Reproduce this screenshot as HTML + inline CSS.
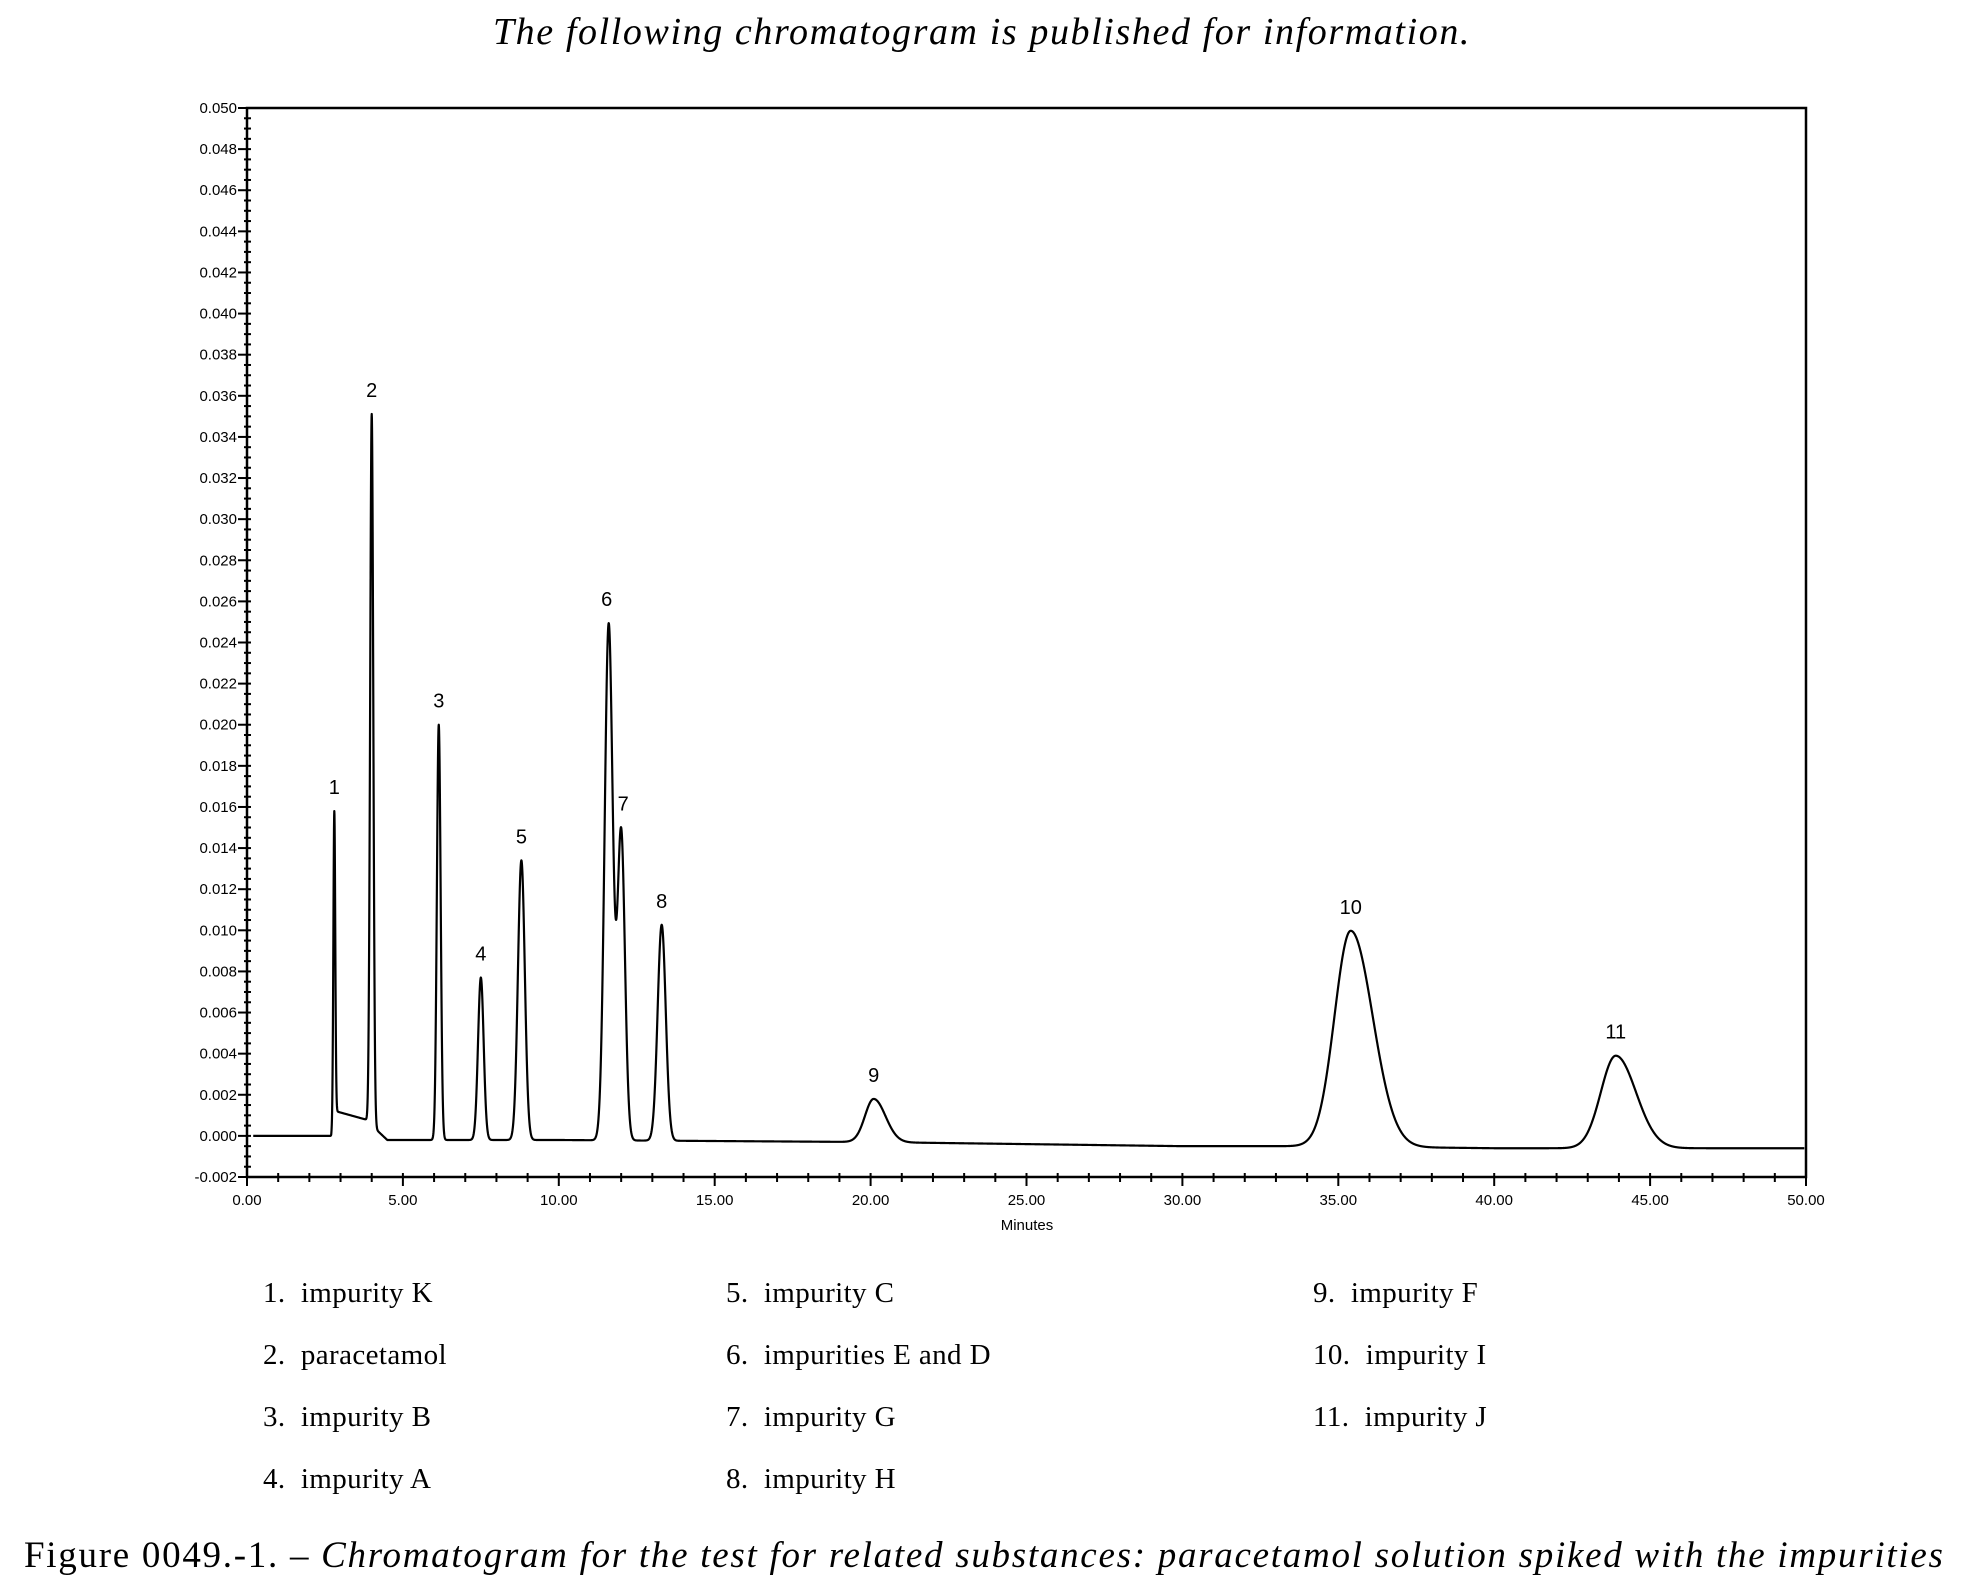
<!DOCTYPE html>
<html><head><meta charset="utf-8">
<style>
body{margin:0;background:#fff;width:1964px;height:1592px;overflow:hidden;position:relative;font-family:"Liberation Serif",serif;color:#000}
.t{position:absolute;white-space:nowrap}
.leg{font-size:29px;letter-spacing:0.4px}
</style></head>
<body>
<div class="t" style="left:0;width:1964px;text-align:center;top:10px;font-size:38px;letter-spacing:1.6px;font-style:italic">The following chromatogram is published for information.</div>
<svg id="chart" width="1964" height="1592" style="position:absolute;left:0;top:0"></svg>
<div class="t leg" style="left:263px;top:1277px">1.&nbsp; impurity K</div>
<div class="t leg" style="left:263px;top:1339px">2.&nbsp; paracetamol</div>
<div class="t leg" style="left:263px;top:1401px">3.&nbsp; impurity B</div>
<div class="t leg" style="left:263px;top:1463px">4.&nbsp; impurity A</div>
<div class="t leg" style="left:726px;top:1277px">5.&nbsp; impurity C</div>
<div class="t leg" style="left:726px;top:1339px">6.&nbsp; impurities E and D</div>
<div class="t leg" style="left:726px;top:1401px">7.&nbsp; impurity G</div>
<div class="t leg" style="left:726px;top:1463px">8.&nbsp; impurity H</div>
<div class="t leg" style="left:1313px;top:1277px">9.&nbsp; impurity F</div>
<div class="t leg" style="left:1313px;top:1339px">10.&nbsp; impurity I</div>
<div class="t leg" style="left:1313px;top:1401px">11.&nbsp; impurity J</div>
<div class="t" style="left:24px;top:1534px;font-size:37px;letter-spacing:1.72px">Figure 0049.-1. – <i>Chromatogram for the test for related substances: paracetamol solution spiked with the impurities</i></div>
<script>
const peakLabels=["1","2","3","4","5","6","7","8","9","10","11"];
const peakTimes=[2.8,4.0,6.15,7.5,8.8,11.6,12.0,13.3,20.1,35.4,43.9];
const peakHeights=[0.0150,0.0346,0.0202,0.0079,0.0136,0.0251,0.0150,0.0105,0.0021,0.0105,0.0045];
const peakWidths=[0.03,0.05,0.06,0.09,0.11,0.13,0.12,0.13,0.28,0.52,0.48];
const baseTimes=[0,2.0,2.7,2.85,3.8,4.5,10,20,30,34,40,50];
const baseValues=[0.0000,0.0000,0.0000,0.0012,0.0008,-0.0002,-0.0002,-0.0003,-0.0005,-0.0005,-0.0006,-0.0006];
const yTicks=["0.050","0.048","0.046","0.044","0.042","0.040","0.038","0.036","0.034","0.032","0.030","0.028","0.026","0.024","0.022","0.020","0.018","0.016","0.014","0.012","0.010","0.008","0.006","0.004","0.002","0.000","-0.002"];
const xTicks=["0.00","5.00","10.00","15.00","20.00","25.00","30.00","35.00","40.00","45.00","50.00"];
const L=247,R=1806,T=108,B=1177,xMin=0,xMax=50,yMin=-0.002,yMax=0.050;
const X=v=>L+(v-xMin)/(xMax-xMin)*(R-L);
const Y=v=>B-(v-yMin)/(yMax-yMin)*(B-T);
const svg=document.getElementById('chart');const NS='http://www.w3.org/2000/svg';
function mk(t,a){const e=document.createElementNS(NS,t);for(const k in a)e.setAttribute(k,a[k]);svg.appendChild(e);return e;}
const frame=mk('rect',{x:L,y:T,width:R-L,height:B-T,fill:'none',stroke:'#000','stroke-width':2.5});


for(let i=0;i<=104;i++){const v=yMin+i*0.0005;const y=Y(v);const major=i%4===0;
 const tk=mk('line',{x1:L-(major?9:3),x2:L+4,y1:y,y2:y,stroke:'#000','stroke-width':2});
 
 }
yTicks.forEach(s=>{const v=parseFloat(s);const t=mk('text',{x:L-10,y:Y(v)+5,'text-anchor':'end','font-family':'Liberation Sans, sans-serif','font-size':15});t.textContent=s;
 
 });
for(let i=0;i<=50;i++){const x=X(i);const major=i%5===0;
 const tk=mk('line',{x1:x,x2:x,y1:B-4,y2:B+(major?9:5),stroke:'#000','stroke-width':2});
 
 }
xTicks.forEach(s=>{const v=parseFloat(s);const t=mk('text',{x:X(v),y:B+28,'text-anchor':'middle','font-family':'Liberation Sans, sans-serif','font-size':15});t.textContent=s;
 
 });
const xt=mk('text',{x:1027,y:1230,'text-anchor':'middle','font-family':'Liberation Sans, sans-serif','font-size':15});xt.textContent='Minutes';


function base(t){for(let i=1;i<baseTimes.length;i++){if(t<=baseTimes[i]){const f=(t-baseTimes[i-1])/(baseTimes[i]-baseTimes[i-1]);return baseValues[i-1]+f*(baseValues[i]-baseValues[i-1]);}}return baseValues[baseValues.length-1];}
function sig(t){let s=base(t);for(let k=0;k<peakTimes.length;k++){let w=peakWidths[k];if(t>peakTimes[k]&&k>=8)w*=1.35;const d=(t-peakTimes[k])/w;s+=peakHeights[k]*Math.exp(-0.5*d*d);}return s;}
let d='';for(let t=0.2;t<=49.95;t+=0.005){d+=(d?'L':'M')+X(t).toFixed(2)+','+Y(sig(t)).toFixed(2);}
const tr=mk('path',{d:d,fill:'none',stroke:'#000','stroke-width':2.2,'stroke-linejoin':'round'});


peakLabels.forEach((s,k)=>{const t=mk('text',{x:X(peakTimes[k])-(k===5?2:0)+(k===6?2:0),y:Y(sig(peakTimes[k]))-17,'text-anchor':'middle','font-family':'Liberation Sans, sans-serif','font-size':20});t.textContent=s;
 
 });
</script>
</body></html>
